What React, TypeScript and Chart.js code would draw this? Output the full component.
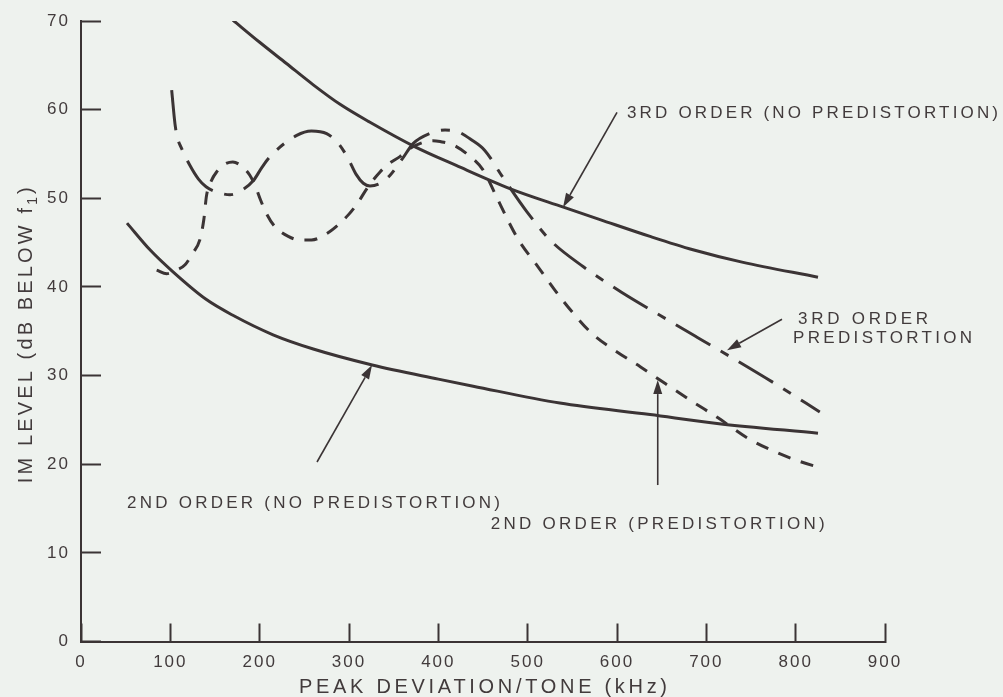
import React, { useEffect, useRef } from "react";
import { Chart, registerables } from "chart.js";

Chart.register(...registerables);

// Axis ticks
const X_TICKS = [0, 100, 200, 300, 400, 500, 600, 700, 800, 900];
const Y_TICKS = [0, 10, 20, 30, 40, 50, 60, 70];

// [peak deviation per tone (kHz), IM level (dB below f1)]
const thirdNoPredistortion: [number, number][] = [
  [170, 70.1], [200, 67.6], [230, 65.2], [260, 62.8], [290, 60.6], [323, 58.6],
  [374, 55.8], [420, 53.7], [480, 51.1], [540, 49.0], [581, 47.6], [637, 45.7],
  [685, 44.2], [740, 42.8], [825, 41.1],
];

const secondNoPredistortion: [number, number][] = [
  [51.5, 47.2], [78, 44.1], [103, 41.7], [140, 38.6], [170, 36.8], [215, 34.6],
  [260, 33.0], [326, 31.2], [400, 29.6], [439, 28.8], [536, 26.9], [637, 25.6],
  [712, 24.6], [825, 23.5],
];

const thirdPredistortion: [number, number][] = [
  [101.5, 62.2], [105.2, 58.4], [107.8, 56.9], [112.7, 55.6], [122, 53.7],
  [131.3, 52.2], [140, 51.3], [152, 50.7], [166.8, 50.4], [180, 50.9],
  [193, 52.0], [202, 53.4], [211.6, 54.7], [241.5, 57.1], [258, 57.6],
  [275, 57.3], [288, 56.2], [299, 54.5], [308, 52.7], [316, 51.7],
  [323.5, 51.4], [335, 51.7], [346, 52.6], [360, 54.5], [372, 56.2],
  [390, 57.3], [407.5, 57.7], [422, 57.5], [437, 56.6], [452, 55.4],
  [472, 52.4], [499, 48.5], [525, 45.3], [562, 42.3], [605, 39.4],
  [648, 36.8], [690, 34.3], [734, 31.7], [780, 28.9], [827, 25.9],
];

const secondPredistortion: [number, number][] = [
  [84.7, 41.9], [96, 41.5], [107, 41.9], [116.5, 42.5], [125, 43.8],
  [133, 45.3], [137.5, 47.6], [140.5, 50.3], [146, 52.0], [152, 53.0],
  [160, 53.8], [170, 54.1], [180, 53.6], [189, 52.6], [195, 51.4],
  [201, 49.8], [208, 48.2], [217, 46.8], [232, 45.7], [245, 45.3],
  [258, 45.3], [275, 46.0], [288, 47.0], [299, 48.1], [310, 49.5],
  [320, 51.1], [335, 53.0], [346, 54.0], [357, 54.7], [368, 55.6],
  [383, 56.3], [394, 56.5], [402, 56.4], [417, 56.0], [432, 55.0],
  [450, 53.2], [465, 50.2], [478, 47.5], [491, 45.1], [510, 42.5],
  [530, 39.7], [553, 36.8], [573.5, 34.6], [599.6, 32.7], [626, 31.0],
  [654, 29.1], [685.5, 27.0], [713.5, 25.2], [747, 22.9], [777, 21.4],
  [805, 20.3], [831, 19.5],
];

// Callout texts (anchored at start of baseline, in data units) and their arrows
type Line = { text: string; x: number; y: number; width: number };
type Callout = { lines: Line[]; tail: [number, number]; tip: [number, number] };

const CALLOUTS: Callout[] = [
  {
    lines: [{ text: "3RD ORDER (NO PREDISTORTION)", x: 611.2, y: 59.1, width: 371 }],
    tail: [600, 59.7],
    tip: [539.6, 49.0],
  },
  {
    lines: [
      { text: "3RD ORDER", x: 802.7, y: 35.87, width: 130 },
      { text: "PREDISTORTION", x: 797.1, y: 33.73, width: 179 },
    ],
    tail: [784.7, 36.36],
    tip: [723.2, 32.87],
  },
  {
    lines: [{ text: "2ND ORDER (NO PREDISTORTION)", x: 51.5, y: 15.13, width: 373 }],
    tail: [264.2, 20.25],
    tip: [325.8, 31.18],
  },
  {
    lines: [{ text: "2ND ORDER (PREDISTORTION)", x: 458.6, y: 12.76, width: 334 }],
    tail: [645.6, 17.65],
    tip: [645.6, 29.49],
  },
];

const X_TITLE = "PEAK DEVIATION/TONE (kHz)";
const Y_TITLE_MAIN = "IM LEVEL (dB BELOW f";
const Y_TITLE_SUB = "1";
const Y_TITLE_END = ")";

const W = 1003;
const H = 697;
const BG = "#eef2ee";
const INK = "#3b3435";
const TEXT = "#423b3c";
const FONT = "'Liberation Sans', Arial, Helvetica, sans-serif";

function spaced(ctx: any, text: string, x: number, y: number, width: number) {
  ctx.letterSpacing = "0px";
  const w = ctx.measureText(text).width;
  const n = Array.from(text).length;
  const s = n > 1 ? (width - w) / (n - 1) : 0;
  ctx.letterSpacing = `${s}px`;
  ctx.fillText(text, x, y);
  ctx.letterSpacing = "0px";
}

function arrow(ctx: CanvasRenderingContext2D, x1: number, y1: number, x2: number, y2: number) {
  const len = 14;
  const half = 4.5;
  const a = Math.atan2(y2 - y1, x2 - x1);
  const bx = x2 - Math.cos(a) * len;
  const by = y2 - Math.sin(a) * len;
  ctx.beginPath();
  ctx.moveTo(x1, y1);
  ctx.lineTo(bx, by);
  ctx.stroke();
  ctx.beginPath();
  ctx.moveTo(x2, y2);
  ctx.lineTo(bx + Math.sin(a) * half, by - Math.cos(a) * half);
  ctx.lineTo(bx - Math.sin(a) * half, by + Math.cos(a) * half);
  ctx.closePath();
  ctx.fill();
}

const decorations = {
  id: "decorations",
  beforeDraw(chart: any) {
    chart.ctx.letterSpacing = "2px";
  },
  afterDraw(chart: any) {
    const ctx = chart.ctx;
    const xs = chart.scales.x;
    const ys = chart.scales.y;
    const area = chart.chartArea;
    ctx.save();
    ctx.letterSpacing = "0px";
    ctx.fillStyle = TEXT;
    ctx.strokeStyle = INK;
    ctx.lineWidth = 1.6;
    ctx.textBaseline = "alphabetic";
    ctx.textAlign = "left";

    // Callouts
    ctx.font = `17px ${FONT}`;
    for (const c of CALLOUTS) {
      for (const l of c.lines) {
        spaced(ctx, l.text, xs.getPixelForValue(l.x), ys.getPixelForValue(l.y) + 0.8, l.width);
      }
      ctx.fillStyle = INK;
      arrow(
        ctx,
        xs.getPixelForValue(c.tail[0]),
        ys.getPixelForValue(c.tail[1]),
        xs.getPixelForValue(c.tip[0]),
        ys.getPixelForValue(c.tip[1])
      );
      ctx.fillStyle = TEXT;
    }

    // X axis title, centred under the axis
    ctx.font = `20px ${FONT}`;
    const xw = 368;
    const xc = (area.left + area.right) / 2;
    spaced(ctx, X_TITLE, xc - xw / 2, area.bottom + 51.5, xw);

    // Y axis title with subscript, rotated
    const yw = 296;
    const yc = (area.top + area.bottom) / 2 + 4;
    ctx.translate(31.7, yc);
    ctx.rotate(-Math.PI / 2);
    ctx.font = `20px ${FONT}`;
    const w1 = ctx.measureText(Y_TITLE_MAIN).width;
    const w3 = ctx.measureText(Y_TITLE_END).width;
    ctx.font = `14px ${FONT}`;
    const w2 = ctx.measureText(Y_TITLE_SUB).width;
    const n =
      Array.from(Y_TITLE_MAIN).length + Array.from(Y_TITLE_SUB).length + Array.from(Y_TITLE_END).length;
    const s = (yw - w1 - w2 - w3) / (n - 1);
    ctx.letterSpacing = `${s}px`;
    let x = -yw / 2;
    ctx.font = `20px ${FONT}`;
    ctx.fillText(Y_TITLE_MAIN, x, 0);
    x += w1 + s * Array.from(Y_TITLE_MAIN).length;
    ctx.font = `14px ${FONT}`;
    ctx.fillText(Y_TITLE_SUB, x, 5);
    x += w2 + s;
    ctx.font = `20px ${FONT}`;
    ctx.fillText(Y_TITLE_END, x, 0);
    ctx.restore();
  },
};

const toPoints = (arr: [number, number][]) => arr.map(([x, y]) => ({ x, y }));

export default function App() {
  const ref = useRef<HTMLCanvasElement>(null);

  useEffect(() => {
    const canvas = ref.current;
    if (!canvas) return;

    const base = {
      borderColor: INK,
      borderWidth: 3,
      pointRadius: 0,
      pointHoverRadius: 0,
      fill: false,
      cubicInterpolationMode: "monotone" as const,
      borderCapStyle: "butt" as const,
      borderJoinStyle: "round" as const,
    };

    const chart = new Chart(canvas, {
      type: "line",
      data: {
        datasets: [
          { ...base, label: "3RD ORDER (NO PREDISTORTION)", data: toPoints(thirdNoPredistortion) },
          { ...base, label: "2ND ORDER (NO PREDISTORTION)", data: toPoints(secondNoPredistortion) },
          {
            ...base,
            label: "3RD ORDER PREDISTORTION",
            data: toPoints(thirdPredistortion),
            borderDash: [40, 12, 9, 12],
          },
          {
            ...base,
            label: "2ND ORDER (PREDISTORTION)",
            data: toPoints(secondPredistortion),
            borderDash: [13, 11],
          },
        ],
      },
      options: {
        responsive: false,
        maintainAspectRatio: false,
        devicePixelRatio: 1,
        animation: false,
        events: [],
        layout: { padding: { top: 21, right: 118, bottom: 0, left: 0 } },
        plugins: { legend: { display: false }, tooltip: { enabled: false } },
        scales: {
          x: {
            type: "linear",
            min: 0,
            max: 900,
            afterBuildTicks: (scale: any) => {
              scale.ticks = X_TICKS.map((v) => ({ value: v }));
            },
            afterFit: (scale: any) => {
              scale.height = 55.5;
              scale.paddingLeft = 0;
              scale.paddingRight = 0;
            },
            border: { display: true, color: INK, width: 2 },
            grid: {
              display: true,
              drawOnChartArea: false,
              drawTicks: true,
              tickLength: -18,
              tickWidth: 2,
              tickColor: INK,
              color: INK,
            },
            ticks: {
              padding: 29,
              color: TEXT,
              font: { family: FONT, size: 17 },
              autoSkip: false,
              maxRotation: 0,
              callback: (v: any) => String(v),
            },
          },
          y: {
            type: "linear",
            min: 0,
            max: 70,
            afterBuildTicks: (scale: any) => {
              scale.ticks = Y_TICKS.map((v) => ({ value: v }));
            },
            afterFit: (scale: any) => {
              scale.width = 81;
              scale.paddingTop = 0;
              scale.paddingBottom = 0;
            },
            border: { display: true, color: INK, width: 2 },
            grid: {
              display: true,
              drawOnChartArea: false,
              drawTicks: true,
              tickLength: -20,
              tickWidth: 2,
              tickColor: INK,
              color: INK,
            },
            ticks: {
              padding: 31,
              color: TEXT,
              font: { family: FONT, size: 17 },
              autoSkip: false,
              callback: (v: any) => String(v),
            },
          },
        },
      },
      plugins: [decorations],
    } as any);

    return () => chart.destroy();
  }, []);

  return (
    <div style={{ position: "fixed", left: 0, top: 0, width: W, height: H, background: BG }}>
      <canvas ref={ref} width={W} height={H} style={{ display: "block", width: W, height: H }} />
    </div>
  );
}
